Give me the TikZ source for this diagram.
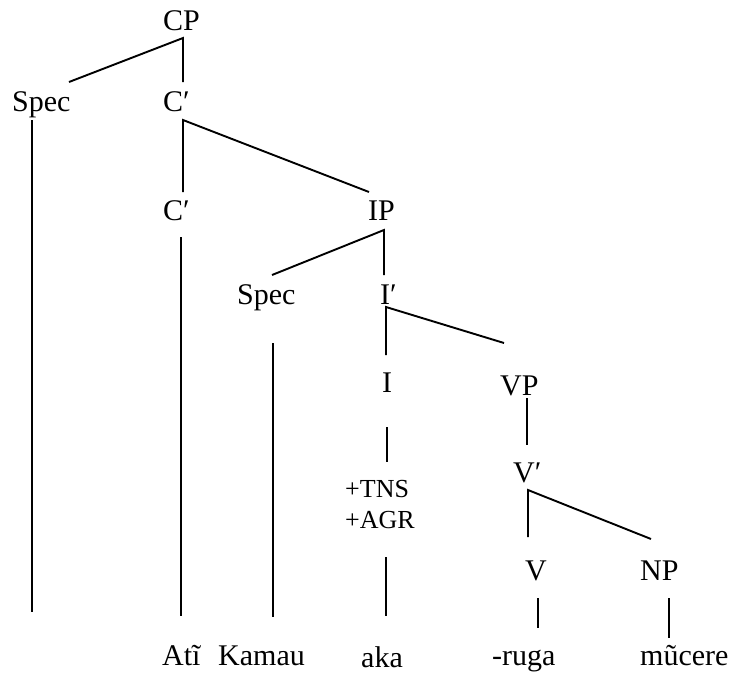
\documentclass[tikz,border=0pt]{standalone}
\usepackage{fontspec}
\setmainfont{Liberation Serif}
\begin{document}
\begin{tikzpicture}[x=1pt,y=-1pt,
  lbl/.style={anchor=base west,inner sep=0pt,font=\fontsize{30}{36}\selectfont},
  feat/.style={anchor=base west,inner sep=0pt,font=\fontsize{26}{31}\selectfont},
  branch/.style={line width=1.9pt,line cap=butt}]
\useasboundingbox (0,0) rectangle (738,675);

% category labels
\node[lbl] (cp)    at (163,30)  {CP};
\node[lbl] (spec1) at (12,111)  {Spec};
\node[lbl] (cbar1) at (163,111) {C′};
\node[lbl] (cbar2) at (163,220) {C′};
\node[lbl] (ip)    at (368,220) {IP};
\node[lbl] (spec2) at (237,304) {Spec};
\node[lbl] (ibar)  at (380,304) {I′};
\node[lbl] (i)     at (382,392) {I};
\node[lbl] (vp)    at (500,395) {VP};
\node[lbl] (vbar)  at (513,482) {V′};
\node[lbl] (v)     at (525,580) {V};
\node[lbl] (np)    at (640,580) {NP};
\node[feat] (tns)  at (345,497) {+TNS};
\node[feat] (agr)  at (345,528) {+AGR};

% terminal words
\node[lbl] (ati)   at (162,665) {Atĩ};
\node[lbl] (kamau) at (218,665) {Kamau};
\node[lbl] (aka)   at (361,667) {aka};
\node[lbl] (ruga)  at (492,665) {-ruga};
\node[lbl] (mucere) at (640,665) {mũcere};

% branch end points
\coordinate (cp-b)    at (183,38);
\coordinate (spec1-t) at (69,82);
\coordinate (cbar1-t) at (183,82);
\coordinate (cbar1-b) at (183,120);
\coordinate (cbar2-t) at (183,192);
\coordinate (ip-t)    at (369,192);
\coordinate (spec1-b) at (32,120);
\coordinate (spec1-e) at (32,612);
\coordinate (cbar2-b) at (181,237);
\coordinate (ati-t)   at (181,616);
\coordinate (ip-b)    at (384,230);
\coordinate (spec2-t) at (272,275);
\coordinate (ibar-t)  at (384,275);
\coordinate (spec2-b) at (273,343);
\coordinate (kamau-t) at (273,617);
\coordinate (ibar-b)  at (386,307);
\coordinate (i-t)     at (386,355);
\coordinate (vp-t)    at (504,343);
\coordinate (i-b)     at (387,427);
\coordinate (tns-t)   at (387,462);
\coordinate (agr-b)   at (386,557);
\coordinate (aka-t)   at (386,616);
\coordinate (vp-b)    at (527,398);
\coordinate (vbar-t)  at (527,445);
\coordinate (vbar-b)  at (528,490);
\coordinate (v-t)     at (528,537);
\coordinate (np-t)    at (651,539);
\coordinate (v-b)     at (538,598);
\coordinate (ruga-t)  at (538,628);
\coordinate (np-b)    at (669,598);
\coordinate (mucere-t) at (669,638);

% branches
\draw[branch] (spec1-t) -- (cp-b) -- (cbar1-t);
\draw[branch] (cbar2-t) -- (cbar1-b) -- (ip-t);
\draw[branch] (spec1-b) -- (spec1-e);
\draw[branch] (cbar2-b) -- (ati-t);
\draw[branch] (spec2-t) -- (ip-b) -- (ibar-t);
\draw[branch] (spec2-b) -- (kamau-t);
\draw[branch] (i-t) -- (ibar-b) -- (vp-t);
\draw[branch] (i-b) -- (tns-t);
\draw[branch] (agr-b) -- (aka-t);
\draw[branch] (vp-b) -- (vbar-t);
\draw[branch] (v-t) -- (vbar-b) -- (np-t);
\draw[branch] (v-b) -- (ruga-t);
\draw[branch] (np-b) -- (mucere-t);
\end{tikzpicture}
\end{document}
